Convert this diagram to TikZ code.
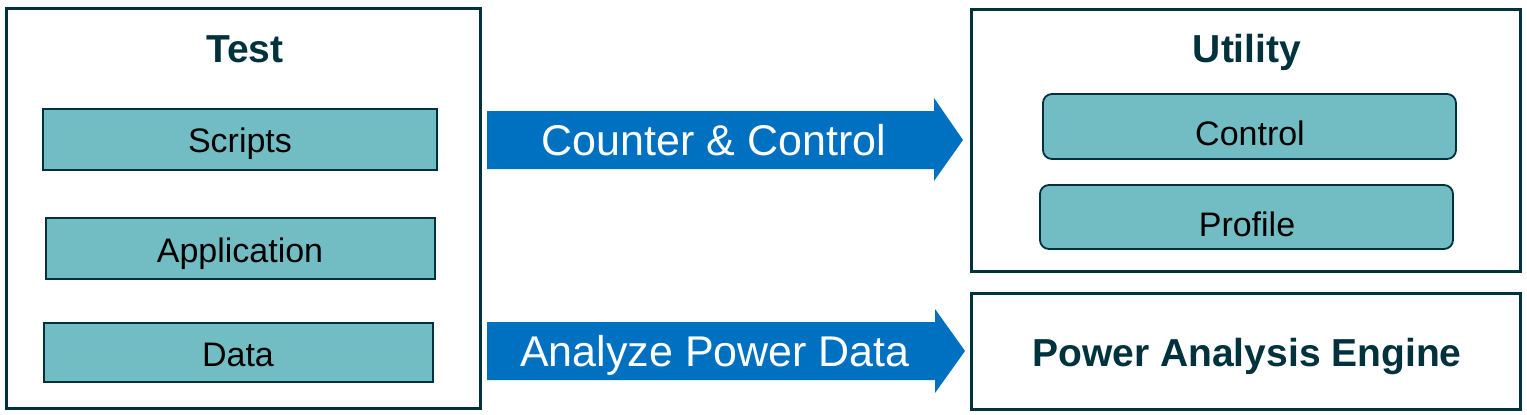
\documentclass[tikz,border=0pt]{standalone}
\usepackage{fontspec}
\setmainfont{Liberation Sans}
\definecolor{frame}{HTML}{00323E}
\definecolor{tealfill}{HTML}{72BDC3}
\definecolor{arrowblue}{HTML}{0070C0}
\begin{document}
\begin{tikzpicture}[x=1pt,y=-1pt,
  outer/.style={draw=frame, line width=3pt, fill=white, inner sep=0pt, rectangle},
  inner/.style={draw=frame, line width=1.8pt, fill=tealfill, inner sep=0pt, rectangle},
  rinner/.style={inner, rounded corners=9pt},
  title/.style={font=\fontsize{39}{45}\selectfont\bfseries, text=frame, anchor=base, inner sep=0pt},
  lbl/.style={font=\fontsize{34}{40}\selectfont, text=black, anchor=base, inner sep=0pt},
  alabel/.style={font=\fontsize{43}{50}\selectfont, text=white, anchor=base, inner sep=0pt},
  blockarrow/.style={fill=arrowblue, draw=none}]
\useasboundingbox (0,0) rectangle (1527,415);
% Test group
\node[outer, minimum width=474pt, minimum height=400pt] (test) at (243.5,208.5) {};
\node[title] (testt) at (245,62) {Test};
\node[inner, minimum width=394pt, minimum height=61pt] (scripts) at (240,139.5) {};
\node[lbl] (scriptst) at (240,152) {Scripts};
\node[inner, minimum width=389pt, minimum height=61pt] (app) at (240.5,248.5) {};
\node[lbl] (appt) at (240,262) {Application};
\node[inner, minimum width=389pt, minimum height=59pt] (data) at (238.5,352.5) {};
\node[lbl] (datat) at (238,366) {Data};
% Utility group
\node[outer, minimum width=549pt, minimum height=262pt] (utility) at (1246,140.5) {};
\node[title] (utilityt) at (1247,62) {Utility};
\node[rinner, minimum width=413pt, minimum height=65pt] (control) at (1249.5,126.5) {};
\node[lbl] (controlt) at (1250,145) {Control};
\node[rinner, minimum width=413pt, minimum height=64pt] (profile) at (1246.5,217) {};
\node[lbl] (profilet) at (1247,236) {Profile};
% Power Analysis Engine
\node[outer, minimum width=549pt, minimum height=116pt] (pae) at (1246,351.5) {};
\node[title] (paet) at (1247,366) {Power Analysis Engine};
% Block arrows
\fill[blockarrow] (487,111) -- (934,111) -- (934,98) -- (963,140) -- (934,181) -- (934,169) -- (487,169) -- cycle;
\node[alabel] (cc) at (714,155) {Counter \& Control};
\fill[blockarrow] (487,322) -- (935,322) -- (935,309) -- (965,351) -- (935,393) -- (935,380) -- (487,380) -- cycle;
\node[alabel] (apd) at (715,366) {Analyze Power Data};
\end{tikzpicture}
\end{document}
